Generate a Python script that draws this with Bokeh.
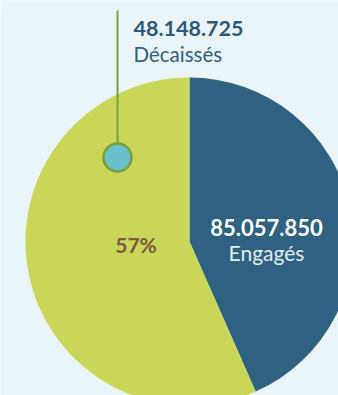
from bokeh.plotting import figure
from bokeh.models import Range1d, ColumnDataSource
from bokeh.core.properties import value
from bokeh.embed import file_html
from bokeh.resources import INLINE
import math

# Data
labels = ["Engagés", "Décaissés"]
amounts = [85057850, 48148725]
amount_texts = ["85.057.850", "48.148.725"]
pct_text = "57%"

W, H = 338, 395
BG = "#EBF4F8"
BLUE = "#2E6280"
GREEN = "#C8D75A"

engaged, disbursed = amounts
frac_dis = disbursed / engaged
frac_rest = 1 - frac_dis

p = figure(width=W, height=H, output_backend="svg", toolbar_location=None,
           x_range=Range1d(0, W), y_range=Range1d(H, 0), min_border=0)
p.axis.visible = False
p.grid.visible = False
p.outline_line_color = None
p.background_fill_color = BG
p.border_fill_color = BG

cx, cy, r = 189, 241, 164
top = math.pi / 2
split = top - frac_rest * 2 * math.pi
src = ColumnDataSource(dict(
    start=[split, top],
    end=[top, split + 2 * math.pi],
    color=[BLUE, GREEN],
))
p.wedge(x=cx, y=cy, radius=r, start_angle="start", end_angle="end",
        direction="anticlock", fill_color="color", line_color=None, source=src)

# leader line + marker
p.segment(x0=[117], y0=[10], x1=[117], y1=[143], line_color="#7A9E3A", line_width=2)
p.scatter(x=[117], y=[157], size=28, fill_color="#6BC1CB", line_color="#7A9E3A", line_width=2.5)

font = value("Lato")
p.text(x=[133], y=[28], text=[amount_texts[1]], text_font=font, text_font_style="bold",
       text_font_size="21.5px", text_color="#2A5A78", text_baseline="alphabetic")
p.text(x=[133], y=[53], text=[labels[1]], text_font=font,
       text_font_size="20.5px", text_color=BLUE, text_baseline="alphabetic")
p.text(x=[266], y=[227], text=[amount_texts[0]], text_font=font, text_font_style="bold",
       text_font_size="22px", text_color="white", text_align="center", text_baseline="alphabetic")
p.text(x=[266], y=[252], text=[labels[0]], text_font=font,
       text_font_size="21px", text_color="#E3EDF2", text_align="center", text_baseline="alphabetic")
p.text(x=[135.5], y=[244], text=[pct_text], text_font=font, text_font_style="bold",
       text_font_size="21px", text_color="#7A5A3A", text_align="center", text_baseline="alphabetic")

open("out.html", "w").write(file_html(p, INLINE))
